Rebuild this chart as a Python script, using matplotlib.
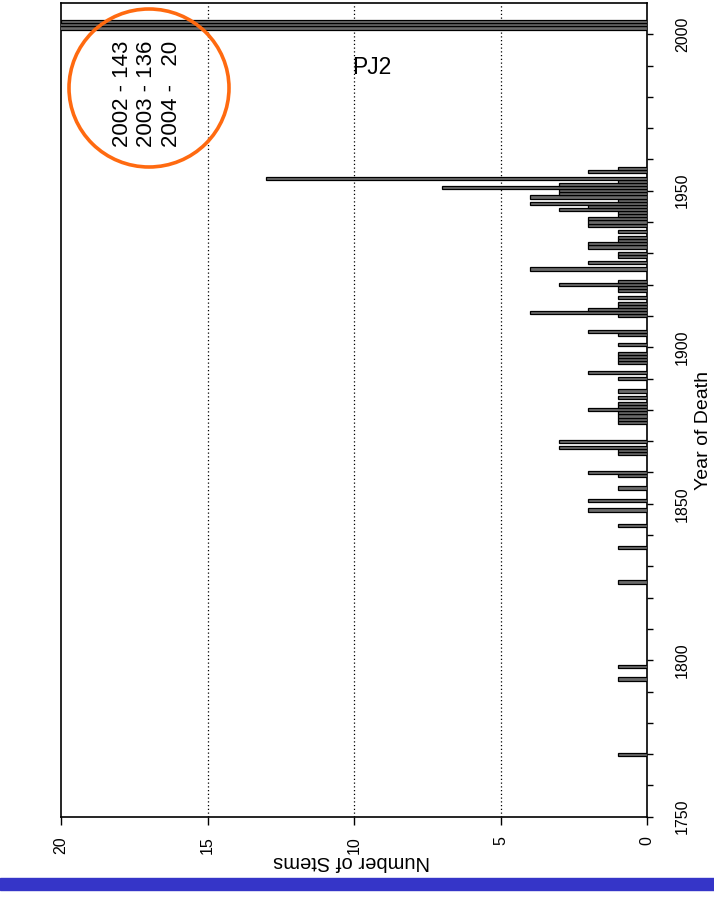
import matplotlib
matplotlib.use("Agg")
import matplotlib.pyplot as plt
from matplotlib.patches import Ellipse, Rectangle

# Stems recorded per year of death
years = [1770, 1794, 1798, 1825, 1836, 1843, 1848, 1851, 1855, 1859,
         1860, 1866, 1867, 1868, 1870, 1876, 1877, 1878, 1879, 1880,
         1881, 1882, 1884, 1886, 1890, 1892, 1895, 1896, 1897, 1898,
         1901, 1904, 1905, 1910, 1911, 1912, 1913, 1914, 1916, 1918,
         1919, 1920, 1921, 1925, 1927, 1929, 1930, 1932, 1933, 1934,
         1935, 1937, 1939, 1940, 1941, 1942, 1943, 1944, 1945, 1946,
         1947, 1948, 1949, 1950, 1951, 1952, 1953, 1954, 1956, 1957,
         2002, 2003, 2004]
stems = [1, 1, 1, 1, 1, 1, 2, 2, 1, 1,
         2, 1, 1, 3, 3, 1, 1, 1, 1, 2,
         1, 1, 1, 1, 1, 2, 1, 1, 1, 1,
         1, 1, 2, 1, 4, 2, 1, 1, 1, 1,
         1, 3, 1, 4, 2, 1, 1, 2, 2, 1,
         1, 1, 2, 2, 2, 1, 1, 3, 2, 4,
         1, 4, 3, 3, 7, 3, 1, 13, 2, 1,
         143, 136, 20]

count_ticks = [0, 5, 10, 15, 20]
year_ticks = [1750, 1800, 1850, 1900, 1950, 2000]
note_lines = ["2002 - 143", "2003 - 136", "2004 -   20"]

plt.rcParams['font.family'] = ['Liberation Sans', 'DejaVu Sans']

W, H = 714, 899
fig = plt.figure(figsize=(W / 100, H / 100), dpi=100)
ax = fig.add_axes([61 / W, 1 - 816.7 / H, (647 - 61) / W, (816.7 - 2.9) / H])

ax.barh(years, stems, height=1.0, color='#6b6b6b', edgecolor='black',
        linewidth=0.9, zorder=3)

ax.set_xlim(20, 0)
ax.set_ylim(1750, 2010)

# count axis along the bottom
ax.set_xticks(count_ticks)
ax.set_xticklabels([str(v) for v in count_ticks], rotation=90, fontsize=11.5)
ax.tick_params(axis='x', direction='out', length=6, width=1, pad=8)

# year axis along the right
ax.yaxis.tick_right()
ax.set_yticks(year_ticks)
ax.set_yticks(list(range(1750, 2010, 10)), minor=True)
ax.set_yticklabels([str(v) for v in year_ticks], rotation=90, fontsize=11.5,
                   va='center')
ax.tick_params(axis='y', which='both', direction='out', length=4, width=1,
               pad=16)

for s in ax.spines.values():
    s.set_linewidth(1.2)

for v in (5, 10, 15):
    ax.axvline(v, color='black', linestyle=(0, (1, 2)), linewidth=0.9,
               zorder=1)

fig.text(352 / W, 1 - 862 / H, "Number of Stems", fontsize=14.5,
         rotation=180, ha='center', va='center')
fig.text(704 / W, 1 - 430 / H, "Year of Death", fontsize=14,
         rotation=90, ha='center', va='center')

fig.text(372 / W, 1 - 68 / H, "PJ2", fontsize=16.5, ha='center', va='center')

fig.text(147 / W, 1 - 94 / H, "\n".join(note_lines), rotation=90,
         fontsize=16, ha='center', va='center', multialignment='left',
         linespacing=1.22)

fig.add_artist(Ellipse((149 / W, 1 - 88 / H), 160 / W, 158 / H,
                       transform=fig.transFigure, fill=False,
                       edgecolor='#ff6a10', linewidth=2.6))

fig.add_artist(Rectangle((0, 1 - 890 / H), 1, 12 / H,
                         transform=fig.transFigure, color='#3535c8'))

fig.savefig("out.png", dpi=100)
